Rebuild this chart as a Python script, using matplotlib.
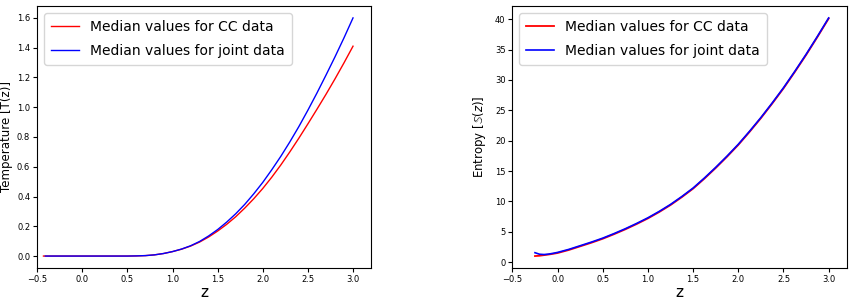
import matplotlib
matplotlib.use('Agg')
import matplotlib.pyplot as plt

# Temperature panel
z_temp_cc = [-0.43, -0.2, 0.0, 0.2, 0.4, 0.5, 0.6, 0.7, 0.8, 0.9, 1.0, 1.1, 1.2, 1.3, 1.4, 1.5,
             1.6, 1.7, 1.8, 1.9, 2.0, 2.1, 2.2, 2.3, 2.4, 2.5, 2.6, 2.7, 2.8, 2.9, 3.0]
temp_cc = [0.0, 0.0, 0.0, 0.0, 0.0, 0.0, 0.001, 0.003, 0.008, 0.017, 0.030, 0.046, 0.067, 0.094,
           0.128, 0.168, 0.213, 0.264, 0.322, 0.385, 0.454, 0.530, 0.612, 0.700, 0.792, 0.888,
           0.986, 1.086, 1.190, 1.298, 1.410]
z_temp_joint = [-0.41, -0.2, 0.0, 0.2, 0.4, 0.5, 0.6, 0.7, 0.8, 0.9, 1.0, 1.1, 1.2, 1.3, 1.4, 1.5,
                1.6, 1.7, 1.8, 1.9, 2.0, 2.1, 2.2, 2.3, 2.4, 2.5, 2.6, 2.7, 2.8, 2.9, 3.0]
temp_joint = [0.0, 0.0, 0.0, 0.0, 0.0, 0.0, 0.001, 0.003, 0.008, 0.017, 0.030, 0.047, 0.069, 0.098,
              0.135, 0.178, 0.228, 0.284, 0.347, 0.418, 0.495, 0.580, 0.670, 0.767, 0.870, 0.980,
              1.095, 1.215, 1.338, 1.466, 1.600]

# Entropy panel
z_ent = [-0.25, -0.2, -0.15, -0.1, -0.05, 0.0, 0.125, 0.25, 0.375, 0.5, 0.625, 0.75, 0.875,
         1.0, 1.125, 1.25, 1.375, 1.5, 1.625, 1.75, 1.875, 2.0, 2.125, 2.25, 2.375, 2.5,
         2.625, 2.75, 2.875, 3.0]
ent_cc = [1.0, 1.05, 1.15, 1.25, 1.37, 1.5, 2.0, 2.6, 3.2, 3.85, 4.6, 5.4, 6.27,
          7.2, 8.25, 9.4, 10.7, 12.1, 13.75, 15.5, 17.35, 19.3, 21.45, 23.7, 26.1, 28.6,
          31.3, 34.1, 37.05, 40.1]
ent_joint = [1.55, 1.3, 1.25, 1.32, 1.45, 1.6, 2.1, 2.7, 3.3, 3.95, 4.7, 5.5, 6.37,
             7.3, 8.35, 9.5, 10.8, 12.2, 13.85, 15.6, 17.45, 19.4, 21.55, 23.8, 26.2, 28.7,
             31.4, 34.2, 37.15, 40.2]

label_cc = 'Median values for CC data'
label_joint = 'Median values for joint data'

fig = plt.figure(figsize=(8.54, 3.08), dpi=100)
ax1 = fig.add_axes([0.0435, 0.130, 0.391, 0.8505])
ax2 = fig.add_axes([0.600, 0.130, 0.3915, 0.8505])

ax1.plot(z_temp_cc, temp_cc, color='red', lw=1.0, label=label_cc)
ax1.plot(z_temp_joint, temp_joint, color='blue', lw=1.0, label=label_joint)
ax1.set_xlim(-0.5, 3.2)
ax1.set_ylabel('Temperature [T(z)]', fontsize=8.5, labelpad=3)

ax2.plot(z_ent, ent_cc, color='red', lw=1.3, label=label_cc)
ax2.plot(z_ent, ent_joint, color='blue', lw=1.2, label=label_joint)
ax2.set_xlim(-0.5, 3.2)
ax2.set_ylabel(r'Entropy [$\mathbb{S}(z)$]', fontsize=8.5, labelpad=5)

for ax in (ax1, ax2):
    ax.set_xlabel('z', fontsize=11, labelpad=1)
    ax.tick_params(labelsize=6, length=3, pad=2)
    ax.legend(loc='upper left', fontsize=10, handlelength=2.0, borderpad=0.5,
              labelspacing=0.75)

fig.savefig('out.png', dpi=100)
